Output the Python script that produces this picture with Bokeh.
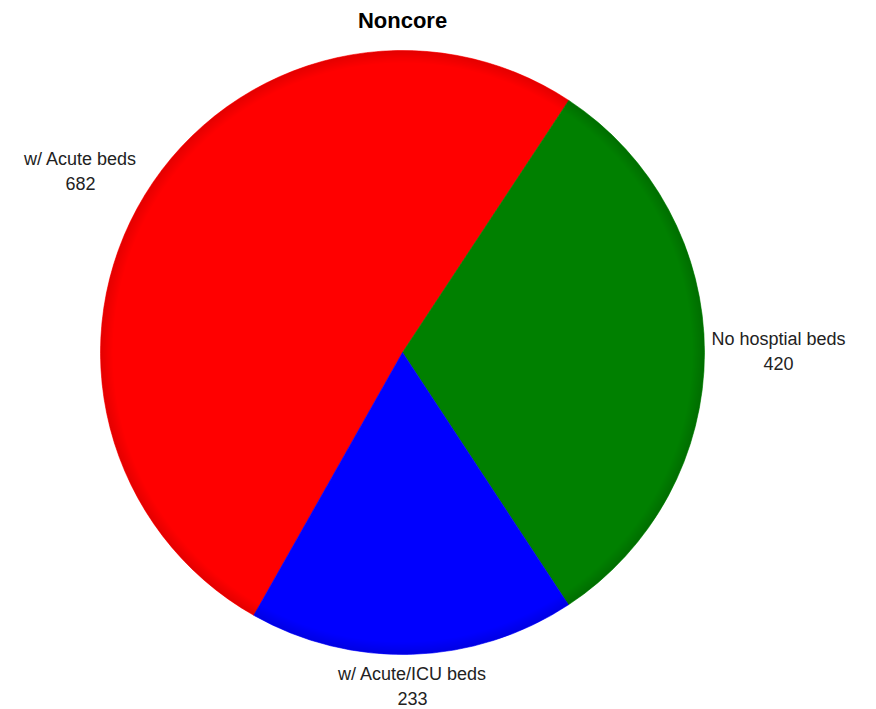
import math
from bokeh.plotting import figure
from bokeh.models import Range1d, ColumnDataSource
from bokeh.core.properties import value
from bokeh.embed import file_html
from bokeh.resources import INLINE

# ---- data ----
categories = ["w/ Acute beds", "No hosptial beds", "w/ Acute/ICU beds"]
counts = [682, 420, 233]
colors = ["#FF0000", "#008000", "#0000FF"]
title_text = "Noncore"

# ---- layout ----
W, H = 876, 709
cx, cy = 402, H - 352          # pie centre (data coords, y up)
R = 302
start_deg = 209.5              # clockwise from 12 o'clock, first slice start
# label anchor offsets from centre (pixels; x right, y up)
label_pos = [(-322, 181), (376, 1), (10, -334)]

total = sum(counts)
starts, ends = [], []
acc = start_deg
for c in counts:
    span = 360.0 * c / total
    starts.append(math.radians(90 - acc))
    ends.append(math.radians(90 - acc - span))
    acc += span

src = ColumnDataSource(dict(start=starts, end=ends, color=colors,
                            name=categories, count=counts))

p = figure(width=W, height=H, x_range=Range1d(0, W), y_range=Range1d(0, H),
           output_backend="svg", toolbar_location=None, min_border=0)
p.axis.visible = False
p.grid.visible = False
p.outline_line_color = None
p.background_fill_color = "white"

p.wedge(x=cx, y=cy, radius=R, start_angle="start", end_angle="end",
        direction="clock", fill_color="color", line_color="color",
        line_width=0.6, source=src)

# rim shading (darker edge)
n = 9
for i in range(n):
    r_in = R * (0.96 + 0.04 * i / n)
    p.annular_wedge(x=cx, y=cy, inner_radius=r_in, outer_radius=R,
                    start_angle=0, end_angle=2 * math.pi,
                    fill_color="black", fill_alpha=0.011, line_color=None)

# labels
lx = [cx + dx for dx, dy in label_pos]
ly = [cy + dy for dx, dy in label_pos]
ltxt = [f"{n_}\n{c}" for n_, c in zip(categories, counts)]
p.text(x=lx, y=ly, text=ltxt, text_align="center", text_baseline="middle",
       text_font=value("Liberation Sans"), text_font_size="18px",
       text_color="#222222", text_line_height=1.25)

# title
p.text(x=[cx], y=[H - 20], text=[title_text], text_align="center",
       text_baseline="middle", text_font=value("Liberation Sans"),
       text_font_size="22px", text_font_style="bold", text_color="#000000")

open("out.html", "w").write(file_html(p, INLINE))
